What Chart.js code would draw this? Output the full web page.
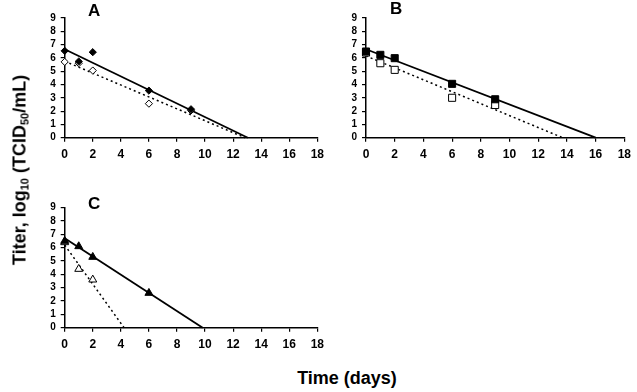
<!DOCTYPE html>
<html lang="en">
<head>
<meta charset="UTF-8">
<title>Titer decay</title>
<style>
    body { margin: 0; background: #fff; }
    #wrap { position: relative; width: 637px; height: 392px; font-family: Arial, "Liberation Sans", sans-serif; }
    .panel { position: absolute; }
    .ylab {
        position: absolute; left: 20px; top: 170px;
        transform: translate(-50%, -50%) rotate(-90deg);
        white-space: nowrap; font-weight: bold; font-size: 18px;
    }
    .xlab {
        position: absolute; left: 347px; top: 378px;
        transform: translate(-50%, -50%);
        white-space: nowrap; font-weight: bold; font-size: 18px;
    }
    sub { font-size: 11px; vertical-align: -3px; }
</style>
</head>
<body>
<div id="wrap">
    <div class="panel" style="left:0;top:0;width:330px;height:160px"><canvas id="chartA"></canvas></div>
    <div class="panel" style="left:320px;top:0;width:317px;height:160px"><canvas id="chartB"></canvas></div>
    <div class="panel" style="left:0;top:190px;width:330px;height:160px"><canvas id="chartC"></canvas></div>
    <div class="ylab">Titer, log<sub>10</sub> (TCID<sub>50</sub>/mL)</div>
    <div class="xlab">Time (days)</div>
</div>

<script src="https://cdn.jsdelivr.net/npm/chart.js"></script>
<script>
    // days sampled
    const daysA = [0, 1, 2, 6, 9];
    const daysB = [0, 1, 2, 6, 9];
    const daysC = [0, 1, 2, 6];
    const daysCopen = [0, 1, 2];

    // panel A (diamonds)
    const filledA = [6.53, 5.73, 6.43, 3.54, 2.14];
    const openA = [5.7, 5.6, 5.05, 2.56, 2.05];
    const fitSolidA = [[0, 6.65], [13.05, 0]];
    const fitDotA = [[0, 5.75], [12.85, 0]];

    // panel B (squares)
    const filledB = [6.48, 6.23, 5.98, 4.05, 2.89];
    const openB = [6.4, 5.6, 5.1, 3.0, 2.46];
    const fitSolidB = [[0, 6.65], [16.0, 0]];
    const fitDotB = [[0, 6.15], [13.7, 0]];

    // panel C (triangles)
    const filledC = [6.5, 6.1, 5.3, 2.6];
    const openC = [6.4, 4.4, 3.6];
    const fitSolidC = [[0, 6.7], [9.83, 0]];
    const fitDotC = [[0, 6.2], [4.23, 0]];

    const xTicks = [0, 2, 4, 6, 8, 10, 12, 14, 16, 18];
    const yTicks = [0, 1, 2, 3, 4, 5, 6, 7, 8, 9];

    const toPts = (xs, ys) => xs.map((x, i) => ({ x: x, y: ys[i] }));
    const toLine = (arr) => arr.map(p => ({ x: p[0], y: p[1] }));

    const panelLetter = {
        id: 'panelLetter',
        afterDraw(chart, args, opts) {
            const ctx = chart.ctx;
            const x = chart.scales.x.getPixelForValue(2.1);
            ctx.save();
            ctx.font = 'bold 17px Arial, "Liberation Sans", sans-serif';
            ctx.fillStyle = '#000';
            ctx.textAlign = 'center';
            ctx.textBaseline = 'middle';
            ctx.fillText(opts.text, x, chart.chartArea.top + opts.dy);
            ctx.restore();
        }
    };

    const drawPanel = (target, letter, dy, style, sizes, xs, filled, xsOpen, open, solid, dotted, pad) => {
        const ctx = document.getElementById(target);
        new Chart(ctx, {
            type: 'scatter',
            data: {
                datasets: [
                    { data: toPts(xs, filled), pointStyle: style, pointRadius: sizes, pointHoverRadius: sizes,
                      backgroundColor: '#000', borderColor: '#000', borderWidth: 1 },
                    { data: toPts(xsOpen, open), pointStyle: style, pointRadius: sizes, pointHoverRadius: sizes,
                      backgroundColor: '#fff', borderColor: '#000', borderWidth: 1 },
                    { data: toLine(solid), showLine: true, pointRadius: 0, borderColor: '#000', borderWidth: 1.8 },
                    { data: toLine(dotted), showLine: true, pointRadius: 0, borderColor: '#000', borderWidth: 1.5,
                      borderDash: [2, 3] }
                ]
            },
            options: {
                responsive: true,
                maintainAspectRatio: false,
                animation: false,
                clip: false,
                layout: { padding: pad },
                plugins: {
                    legend: { display: false },
                    tooltip: { enabled: false },
                    panelLetter: { text: letter, dy: dy }
                },
                scales: {
                    x: {
                        type: 'linear', min: 0, max: 18,
                        afterBuildTicks: (s) => { s.ticks = xTicks.map(v => ({ value: v })); },
                        afterFit: (s) => { s.height = 22.3; },
                        grid: { display: true, drawOnChartArea: false, drawTicks: true, tickLength: 4, color: '#000', lineWidth: 1.2 },
                        border: { display: true, color: '#000', width: 1.5 },
                        ticks: { color: '#000', padding: 6, autoSkip: false, maxRotation: 0, font: { family: 'Arial, "Liberation Sans", sans-serif', size: 12, weight: 'bold' } }
                    },
                    y: {
                        type: 'linear', min: 0, max: 9,
                        afterBuildTicks: (s) => { s.ticks = yTicks.map(v => ({ value: v })); },
                        afterFit: (s) => { s.width = pad.yw; },
                        grid: { display: true, drawOnChartArea: false, drawTicks: true, tickLength: 4, color: '#000', lineWidth: 1.2 },
                        border: { display: true, color: '#000', width: 1.5 },
                        ticks: { color: '#000', padding: 5, autoSkip: false, font: { family: 'Arial, "Liberation Sans", sans-serif', size: 10, weight: 'bold' } }
                    }
                }
            },
            plugins: [panelLetter]
        });
    };

    drawPanel('chartA', 'A', -7, 'rectRot', 3.6, daysA, filledA, daysA, openA, fitSolidA, fitDotA,
        { left: 0, right: 4.3, top: 18, bottom: 0, yw: 64.7 });
    drawPanel('chartB', 'B', -8.5, 'rect', 5, daysB, filledB, daysB, openB, fitSolidB, fitDotB,
        { left: 0, right: 8, top: 18, bottom: 0, yw: 46 });
    drawPanel('chartC', 'C', -3, 'triangle', 4.6, daysC, filledC, daysCopen, openC, fitSolidC, fitDotC,
        { left: 0, right: 4.3, top: 17.7, bottom: 0, yw: 64.7 });
</script>
</body>
</html>
